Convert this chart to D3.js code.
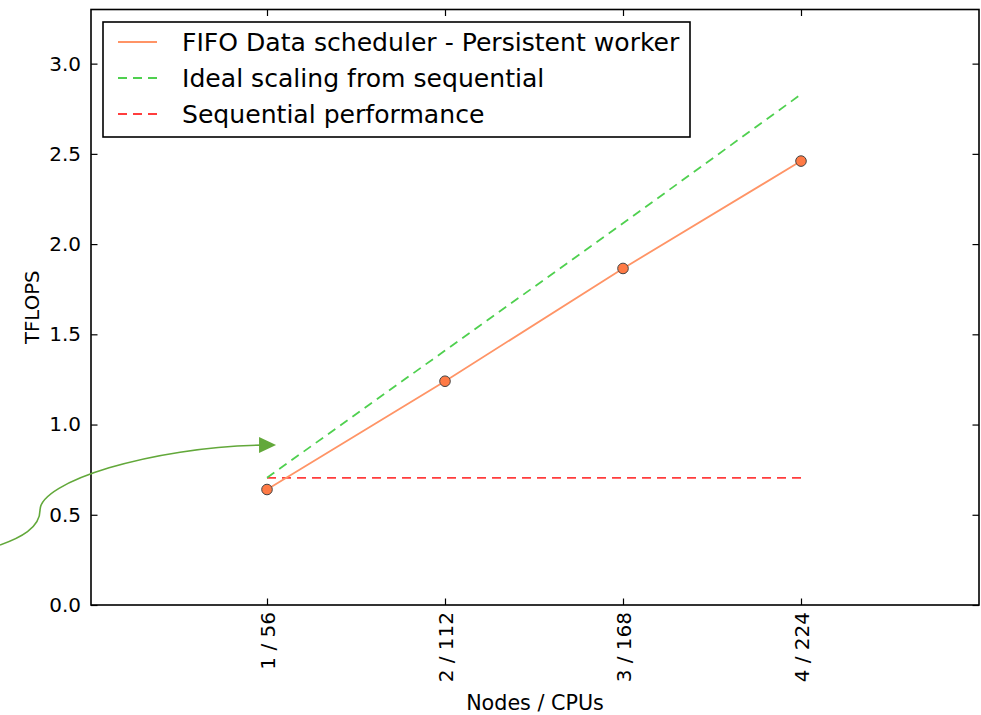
<!DOCTYPE html>
<html><head><meta charset="utf-8">
<script src="https://cdn.jsdelivr.net/npm/d3@7"></script>
<style>
html,body{margin:0;padding:0;background:#fff;}
svg{display:block;font-family:"DejaVu Sans",sans-serif;}
svg text{font-family:"DejaVu Sans",sans-serif;}
</style></head>
<body><svg id="chart" width="981" height="715"></svg>
<script>
// ---- data ----
const nodes = [1, 2, 3, 4];
const categories = ["1 / 56", "2 / 112", "3 / 168", "4 / 224"];
const fifo = [0.64, 1.24, 1.865, 2.46];
const ideal = [0.705, 1.41, 2.115, 2.83];
const sequential = [0.705, 0.705, 0.705, 0.705];
const yTicks = [0, 0.5, 1.0, 1.5, 2.0, 2.5, 3.0];
const seriesNames = ["FIFO Data scheduler - Persistent worker", "Ideal scaling from sequential", "Sequential performance"];
// annotation arrow (data coordinates)
const arrowCurve = [[-0.5,0.332],[-0.388,0.371],[-0.275,0.426],[-0.275,0.526],[-0.275,0.681],[0.343,0.875],[0.972,0.886]];
const arrowTip = [1.051, 0.886];

const W = 981, H = 715;
const m = {left: 91, right: 2, top: 9.5, bottom: 110};
const svg = d3.select("#chart");
const x = d3.scaleLinear().domain([0, 5]).range([m.left - 2, W - m.right]);
const y = d3.scaleLinear().domain([0, 3.3]).range([H - m.bottom, m.top]);
const x0 = m.left, x1 = W - m.right, y0 = H - m.bottom, y1 = m.top;

const colFifo = "#ff9466", colMarker = "#ff7a45", colIdeal = "#4fd04f", colSeq = "#ff3d3d", colArrow = "#62a83a";
const tickLen = 6.5;
const FONT = "DejaVu Sans";

// axes
const gB = svg.append("g").attr("transform", `translate(0,${y0})`)
  .call(d3.axisBottom(x).tickValues(nodes).tickFormat((d,i)=>categories[i]).tickSizeInner(-tickLen).tickSizeOuter(0));
gB.selectAll("text").attr("font-size", 20).attr("fill", "#000")
  .attr("transform", "rotate(-90)").attr("text-anchor", "end").attr("dx", "-7").attr("dy", "0.36em").attr("y", 0);
const gT = svg.append("g").attr("transform", `translate(0,${y1})`)
  .call(d3.axisTop(x).tickValues(nodes).tickFormat("").tickSizeInner(-tickLen).tickSizeOuter(0));
const gL = svg.append("g").attr("transform", `translate(${x0},0)`)
  .call(d3.axisLeft(y).tickValues(yTicks).tickFormat(d3.format(".1f")).tickSizeInner(-tickLen).tickSizeOuter(0).tickPadding(10));
gL.selectAll("text").attr("font-size", 20).attr("fill", "#000");
const gR = svg.append("g").attr("transform", `translate(${x1},0)`)
  .call(d3.axisRight(y).tickValues(yTicks).tickFormat("").tickSizeInner(-tickLen).tickSizeOuter(0));
[gB, gT, gL, gR].forEach(g => {
  g.attr("font-family", FONT);
  g.select(".domain").remove();
  g.selectAll("line").attr("stroke", "#000").attr("stroke-width", 1.2);
});

// frame
svg.append("rect").attr("x", x0).attr("y", y1).attr("width", x1 - x0).attr("height", y0 - y1)
  .attr("fill", "none").attr("stroke", "#000").attr("stroke-width", 1.6);

// axis labels
svg.append("text").attr("x", (x0 + x1) / 2).attr("y", 710).attr("text-anchor", "middle")
  .attr("font-size", 20.7).text("Nodes / CPUs");
svg.append("text").attr("transform", `translate(39,${(y0 + y1) / 2}) rotate(-90)`).attr("text-anchor", "middle")
  .attr("font-size", 19.7).text("TFLOPS");

// lines
const line = d3.line().x((d,i)=>x(nodes[i])).y(d=>y(d));
svg.append("path").datum(sequential).attr("d", line).attr("fill", "none")
  .attr("stroke", colSeq).attr("stroke-width", 1.8).attr("stroke-dasharray", "9,6");
svg.append("path").datum(ideal).attr("d", line).attr("fill", "none")
  .attr("stroke", colIdeal).attr("stroke-width", 1.8).attr("stroke-dasharray", "9,6");
svg.append("path").datum(fifo).attr("d", line).attr("fill", "none")
  .attr("stroke", colFifo).attr("stroke-width", 1.8);
svg.selectAll("circle.pt").data(fifo).enter().append("circle").attr("class", "pt")
  .attr("cx", (d,i)=>x(nodes[i])).attr("cy", d=>y(d)).attr("r", 5.3)
  .attr("fill", colMarker).attr("stroke", "#444").attr("stroke-width", 1);

// annotation arrow
const P = arrowCurve.map(p => [x(p[0]), y(p[1])]);
const pth = `M${P[0]} C${P[1]} ${P[2]} ${P[3]} C${P[4]} ${P[5]} ${P[6]}`;
svg.append("path").attr("d", pth).attr("fill", "none").attr("stroke", colArrow).attr("stroke-width", 1.6);
const tx = x(arrowTip[0]), ty = y(arrowTip[1]);
svg.append("path").attr("d", `M${tx},${ty} L${tx-17},${ty-8} L${tx-17},${ty+8} Z`).attr("fill", colArrow);

// legend
const lg = svg.append("g");
lg.append("rect").attr("x", 103).attr("y", 22).attr("width", 587).attr("height", 115)
  .attr("fill", "#fff").attr("stroke", "#000").attr("stroke-width", 1.6);
const styles = [{c: colFifo, d: null}, {c: colIdeal, d: "9,6"}, {c: colSeq, d: "9,6"}];
seriesNames.forEach((nm, i) => {
  const yy = 42 + i * 36;
  lg.append("line").attr("x1", 118).attr("x2", 157).attr("y1", yy).attr("y2", yy)
    .attr("stroke", styles[i].c).attr("stroke-width", 1.8).attr("stroke-dasharray", styles[i].d);
  lg.append("text").attr("x", 182).attr("y", yy).attr("dy", "0.36em").attr("font-size", 25.1).text(nm);
});
</script></body></html>
